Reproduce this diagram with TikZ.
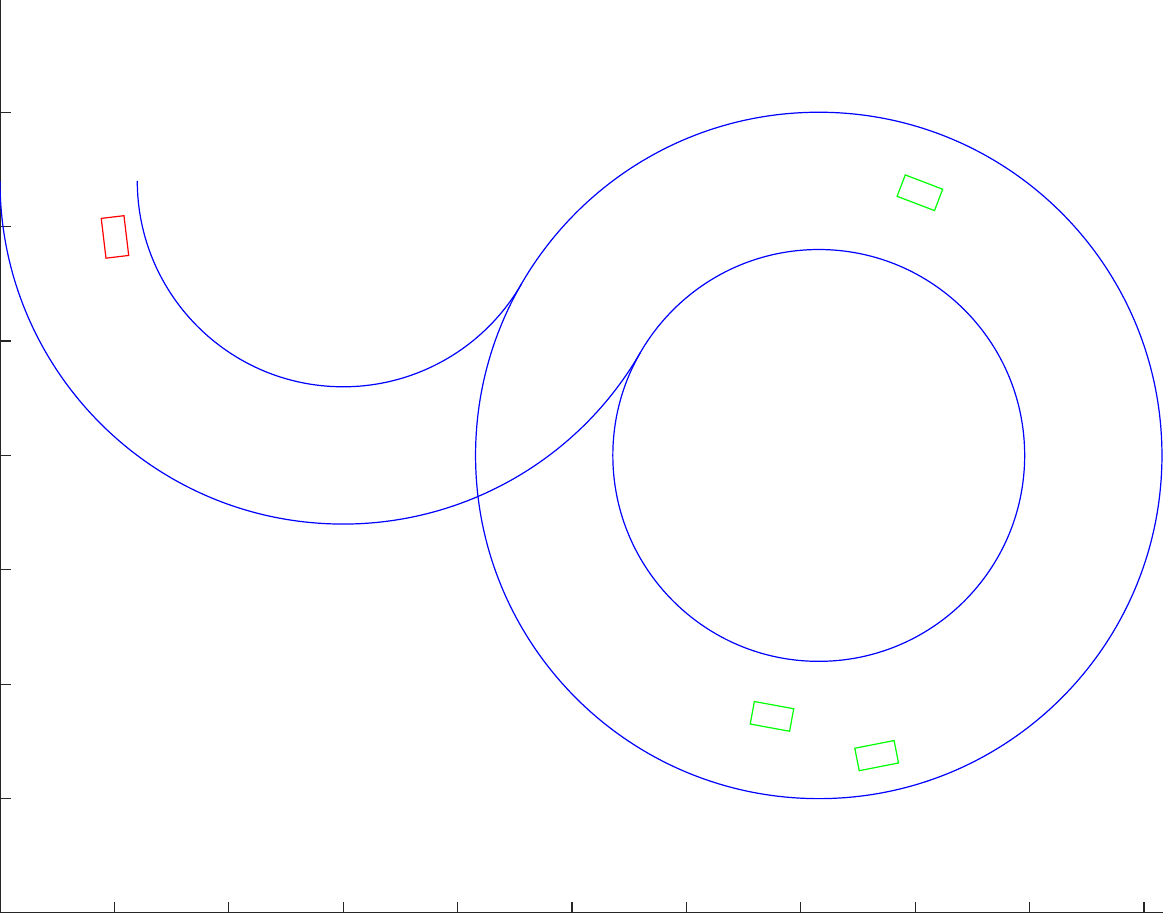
\documentclass[tikz,border=0pt]{standalone}
\usepackage{tikz}
\usetikzlibrary{calc, positioning}
\usepackage{xcolor}

\definecolor{axisgray}{RGB}{38,38,38}
\definecolor{trackblue}{RGB}{0,0,255}
\definecolor{egored}{RGB}{255,0,0}
\definecolor{othergreen}{RGB}{0,255,0}

\begin{document}
\begin{tikzpicture}[x=0.1cm, y=0.1cm,
      lane/.style={draw=trackblue, line width=0.3pt},
      car/.style={draw, rectangle, line width=0.3pt, inner sep=0pt,
                  minimum width=0.35cm, minimum height=0.2cm},
      axisline/.style={draw=axisgray, line width=0.3pt}
    ]
    \useasboundingbox (0,0) rectangle (101.66,79.81);

    % track centres
    \coordinate (bend)  at (30,64);
    \coordinate (loop)  at ($(bend)+(-30:48)$);

    % axes
    \draw[axisline] (0,79.81) -- (0,0.08) -- (101.66,0.08);
    \foreach \x in {10,20,...,100}
      \draw[axisline] (\x,0) -- (\x,1);
    \foreach \y in {10,20,...,70}
      \draw[axisline] (0,\y) -- (1,\y);

    % left bend
    \draw[lane] ($(bend)+(-18,0)$) arc[start angle=180, end angle=330, radius=18];
    \draw[lane] ($(bend)+(-30,0)$) arc[start angle=180, end angle=330, radius=30];

    % right loop
    \draw[lane] (loop) circle[radius=18];
    \draw[lane] (loop) circle[radius=30];

    % vehicles
    \node[car, draw=egored, rotate=96.8]      (ego)    at (10.05,59.10) {};
    \node[car, draw=othergreen, rotate=-20.9] (carA)   at (80.41,62.96) {};
    \node[car, draw=othergreen, rotate=-10.4] (carB)   at (67.48,17.19) {};
    \node[car, draw=othergreen, rotate=11.1]  (carC)   at (76.63,13.76) {};
  \end{tikzpicture}
\end{document}
